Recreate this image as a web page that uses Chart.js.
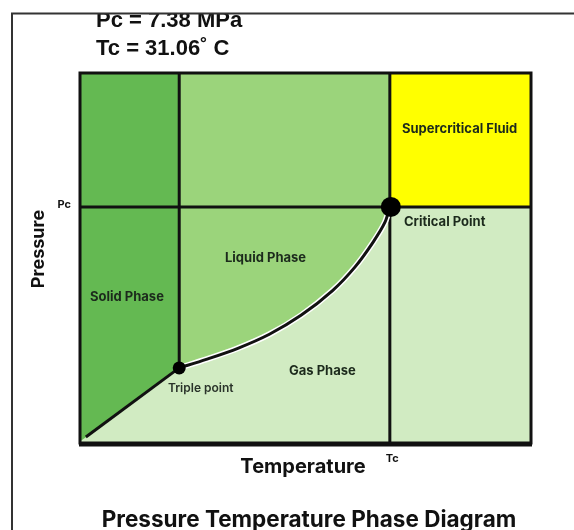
<!DOCTYPE html>
<html>
<head>
<meta charset="utf-8">
<script src="https://cdn.jsdelivr.net/npm/chart.js@4"></script>
<style>
  html, body { margin: 0; padding: 0; background: #fff; overflow: hidden; }
  #wrap { width: 574px; height: 530px; position: relative; }
</style>
</head>
<body>
<div id="wrap"><canvas id="phase"></canvas></div>
<script>
// === DATOS (escala 0-100 en ambos ejes) ===
const TRIPLE = { x: 22.0, y: 20.3 };
const CRITICAL = { x: 68.7, y: 63.8 };
const SUBLIMATION_START = { x: 1.3, y: 1.6 };
const curveX = [22.0, 28.0, 35.0, 42.0, 49.0, 56.0, 61.0, 65.0, 67.6, 68.7];
const curveY = [20.3, 22.6, 25.6, 29.4, 34.5, 41.2, 47.6, 54.3, 59.6, 63.8];
const phaseLabels = ["Solid Phase", "Liquid Phase", "Gas Phase", "Supercritical Fluid", "Critical Point", "Triple point"];
const header = ["Pc = 7.38 MPa", "Tc = 31.06\u02da C"];

const COLORS = {
  solid: "#64b952",
  liquid: "#9bd47b",
  gas: "#d1ebc2",
  super: "#ffff00",
  ink: "#111"
};

const pts = (xs, ys) => xs.map((x, i) => ({ x: x, y: ys[i] }));
const curve = pts(curveX, curveY);

function fillSet(data, color, order, fill) {
  return { data: data, fill: fill || "end", backgroundColor: color, borderWidth: 0, pointRadius: 0, order: order };
}
function lineSet(data, width, color, order) {
  return { data: data, fill: false, borderColor: color || COLORS.ink, borderWidth: width, pointRadius: 0, order: order };
}

const FONT = "Inter, 'Liberation Sans', Arial, sans-serif";
const ARIAL = "'Liberation Sans', Arial, sans-serif";

// === TEXTOS Y MARCO ===
const decor = {
  id: "decor",
  afterDatasetsDraw(chart) {
    const { ctx, chartArea: a, scales } = chart;
    const xs = scales.x, ys = scales.y;
    ctx.save();
    // borde del área
    ctx.strokeStyle = COLORS.ink;
    ctx.lineWidth = 3;
    ctx.strokeRect(a.left, a.top, a.right - a.left, a.bottom - a.top);
    ctx.beginPath();
    ctx.moveTo(a.left - 1, a.bottom + 2);
    ctx.lineTo(a.right + 1, a.bottom + 2);
    ctx.stroke();

    // punto crítico
    ctx.fillStyle = "#000";
    ctx.beginPath();
    ctx.arc(xs.getPixelForValue(CRITICAL.x) + 1, ys.getPixelForValue(CRITICAL.y), 10, 0, Math.PI * 2);
    ctx.fill();

    ctx.fillStyle = "#1c2a1c";
    ctx.textBaseline = "alphabetic";
    ctx.font = "bold 13px " + FONT;
    ctx.textAlign = "left";
    ctx.fillText(phaseLabels[0], 90, 301);
    ctx.fillText(phaseLabels[1], 225, 262);
    ctx.fillText(phaseLabels[2], 289, 375);
    ctx.fillText(phaseLabels[3], 402, 133);
    ctx.fillText(phaseLabels[4], 404, 226);
    ctx.font = "600 12px " + FONT;
    ctx.fillStyle = "#2a332a";
    ctx.fillText(phaseLabels[5], 168, 392);

    // ticks Pc / Tc
    ctx.fillStyle = COLORS.ink;
    ctx.font = "bold 11px " + FONT;
    ctx.textAlign = "right";
    ctx.fillText("Pc", a.left - 9, ys.getPixelForValue(CRITICAL.y) + 1);
    ctx.textAlign = "left";
    ctx.fillText("Tc", xs.getPixelForValue(CRITICAL.x) - 4, a.bottom + 19);

    // títulos de ejes
    ctx.font = "bold 20px " + FONT;
    ctx.textAlign = "center";
    ctx.fillText("Temperature", 303, 473);
    ctx.save();
    ctx.font = "bold 18px " + FONT;
    ctx.translate(44, 249);
    ctx.rotate(-Math.PI / 2);
    ctx.fillText("Pressure", 0, 0);
    ctx.restore();

    // título inferior
    ctx.font = "bold 22.5px " + FONT;
    ctx.fillText("Pressure Temperature Phase Diagram", 309, 527);

    // cabecera recortada
    ctx.textAlign = "left";
    ctx.font = "bold 22px " + ARIAL;
    ctx.fillText(header[0], 96, 27);
    ctx.fillText(header[1], 96, 55);
    ctx.fillStyle = "#fff";
    ctx.fillRect(0, 0, chart.width, 13);

    // marco exterior
    ctx.strokeStyle = "#333";
    ctx.lineWidth = 2;
    ctx.beginPath();
    ctx.moveTo(12, chart.height);
    ctx.lineTo(12, 13.5);
    ctx.lineTo(chart.width, 13.5);
    ctx.stroke();
    ctx.restore();
  }
};

new Chart(document.getElementById("phase"), {
  type: "line",
  data: {
    datasets: [
      fillSet([{ x: 0, y: 100 }, { x: 100, y: 100 }], COLORS.gas, 21, "start"),
      fillSet([{ x: 0, y: 0.4 }, TRIPLE], COLORS.solid, 10),
      Object.assign(fillSet(curve, COLORS.liquid, 10), { tension: 0.3 }),
      fillSet([CRITICAL, { x: 100, y: CRITICAL.y }], COLORS.super, 10),
      lineSet([{ x: 0, y: CRITICAL.y }, { x: 100, y: CRITICAL.y }], 3, null, 6),
      lineSet([TRIPLE, { x: TRIPLE.x, y: 100 }], 3, null, 6),
      lineSet([{ x: CRITICAL.x, y: 0 }, { x: CRITICAL.x, y: 100 }], 3, null, 6),
      lineSet([SUBLIMATION_START, TRIPLE], 3, null, 6),
      Object.assign(lineSet(curve, 6, "#fff", 5), { tension: 0.3 }),
      Object.assign(lineSet(curve, 3, null, 4), { tension: 0.3 }),
      { data: [TRIPLE], showLine: false, pointRadius: 6.5, pointBackgroundColor: "#000", pointBorderWidth: 0, order: 2 }
    ]
  },
  options: {
    responsive: true,
    maintainAspectRatio: false,
    animation: false,
    layout: { padding: { left: 80, top: 73, right: 43, bottom: 87 } },
    plugins: { legend: { display: false }, tooltip: { enabled: false } },
    scales: {
      x: { type: "linear", min: 0, max: 100, display: false },
      y: { type: "linear", min: 0, max: 100, display: false }
    }
  },
  plugins: [decor]
});
</script>
</body>
</html>
